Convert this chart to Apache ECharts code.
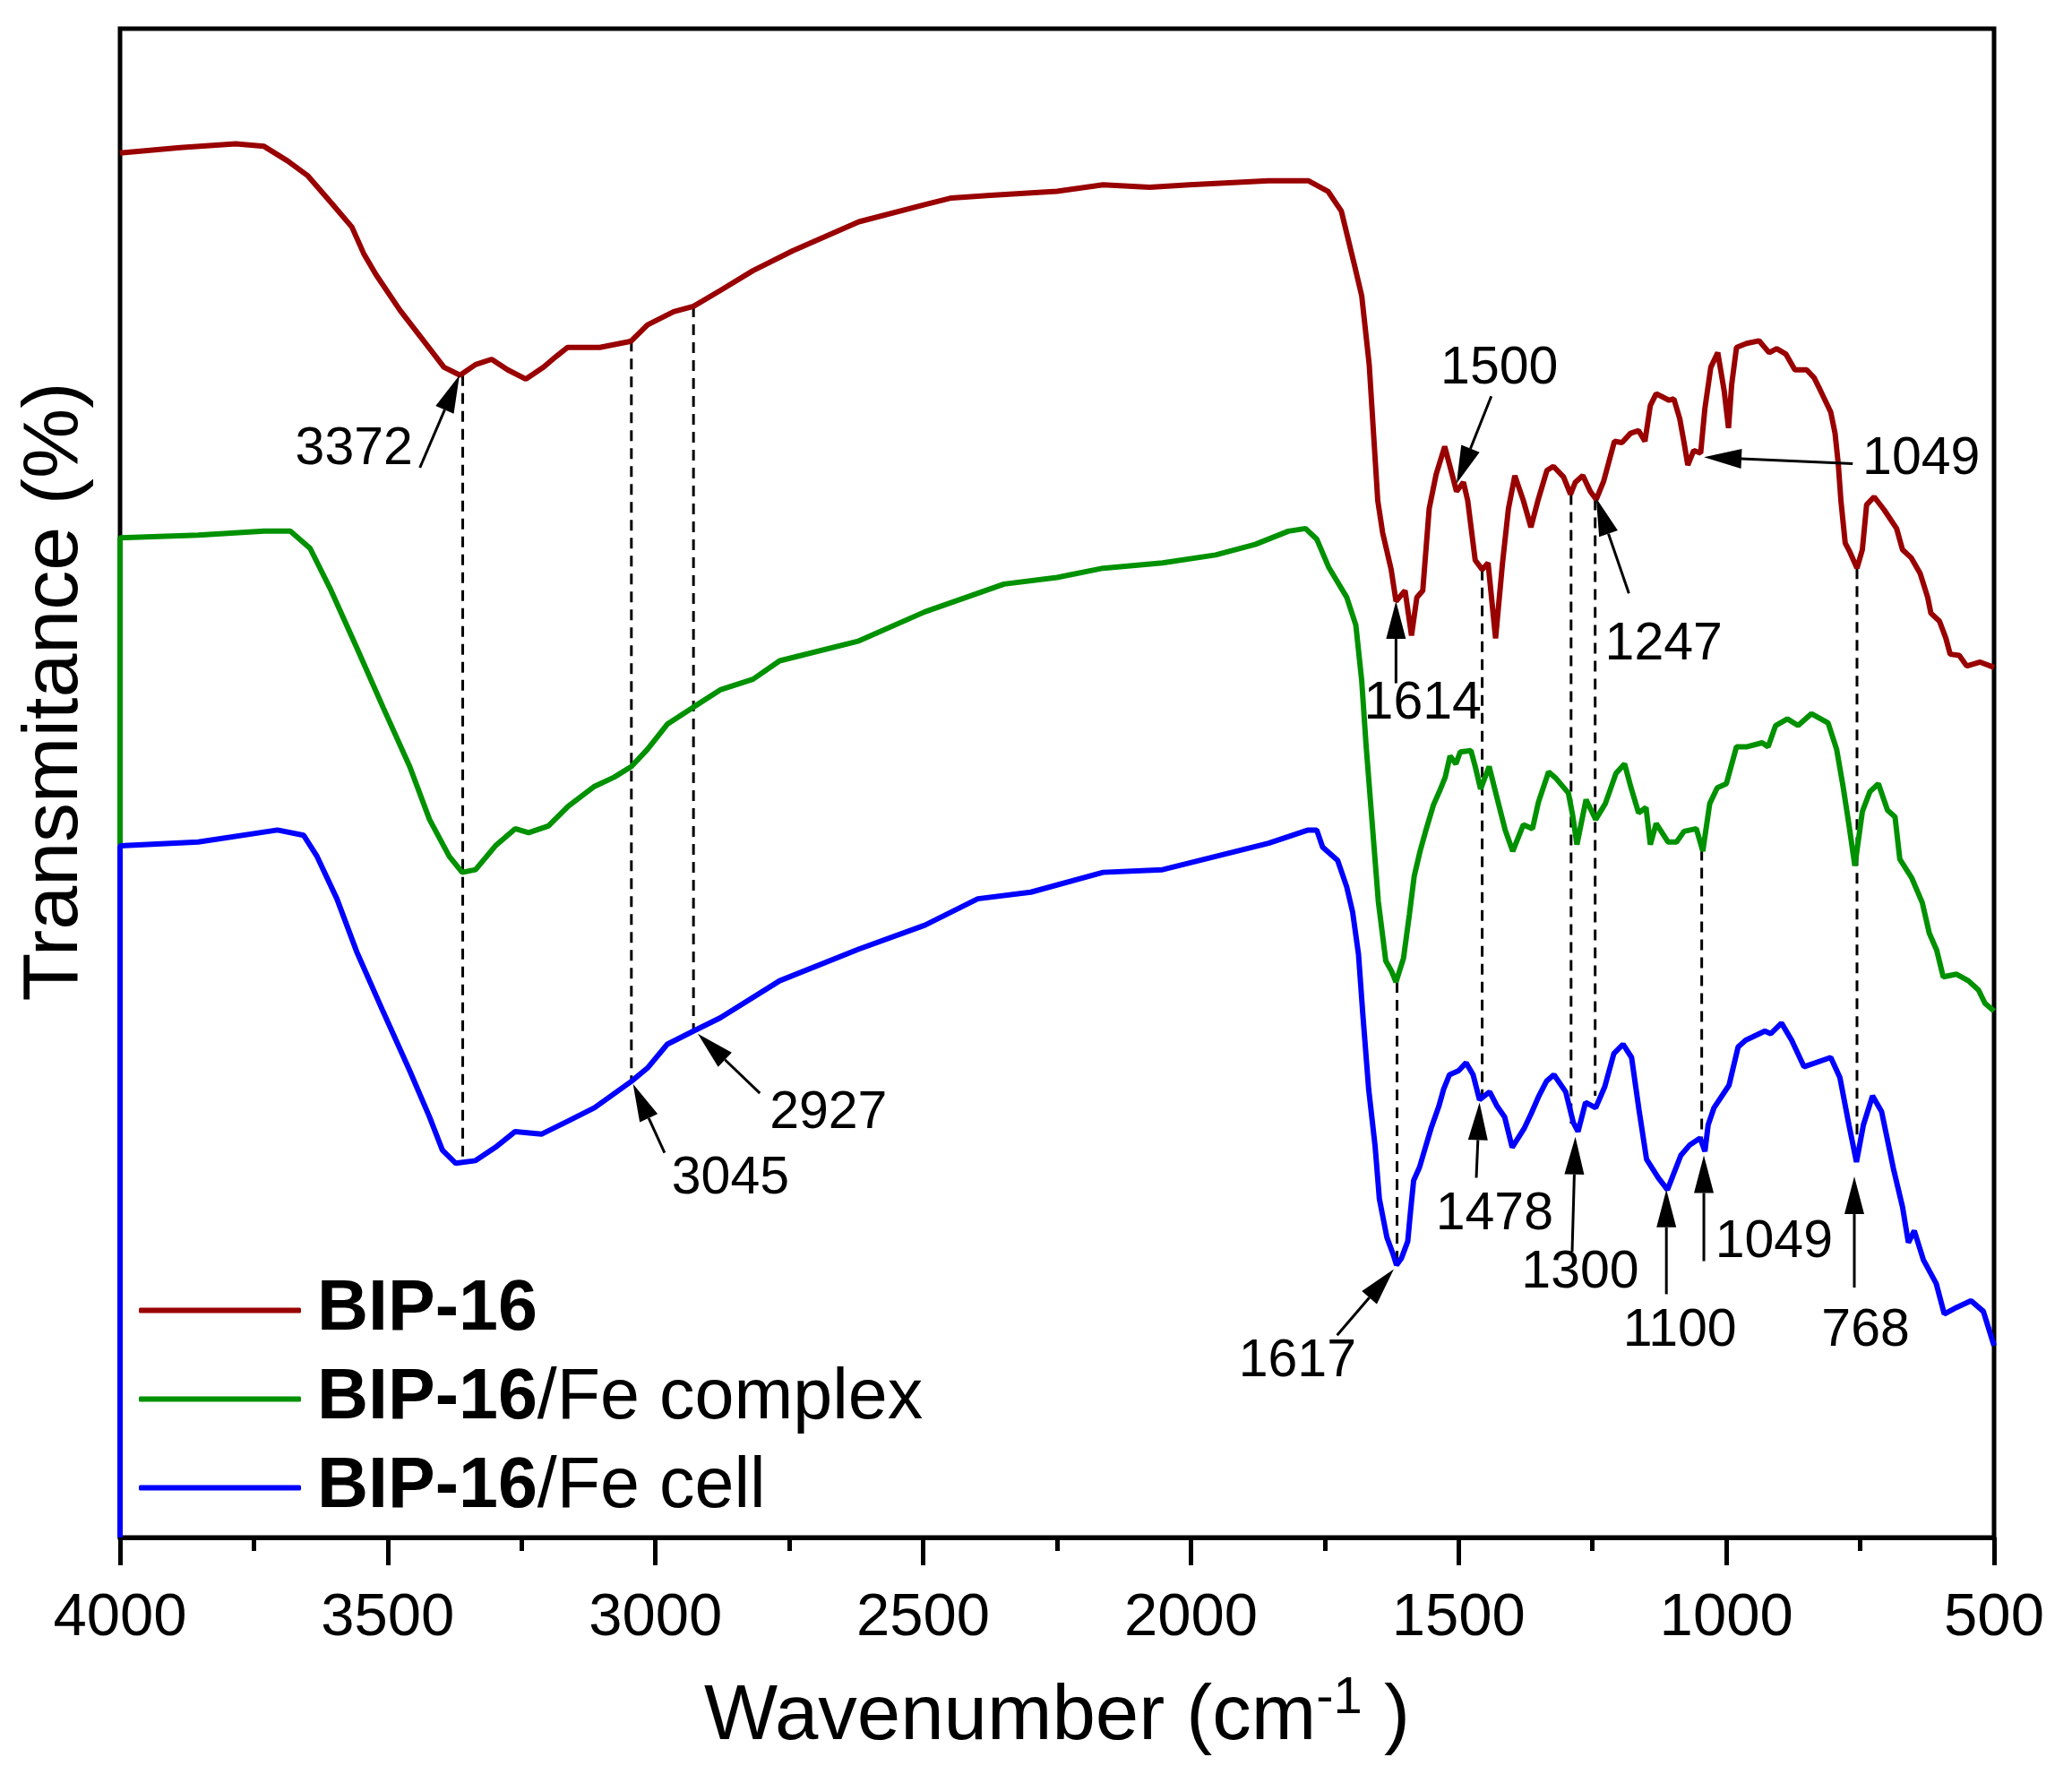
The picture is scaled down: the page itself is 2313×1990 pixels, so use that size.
<!DOCTYPE html>
<html>
<head>
<meta charset="utf-8">
<script src="https://cdn.jsdelivr.net/npm/echarts@6/dist/echarts.min.js"></script>
<style>
html,body{margin:0;padding:0;background:#fff;}
#chart{width:2313px;height:1990px;}
</style>
</head>
<body>
<div id="chart"></div>
<script>
// ---------- Data (wavenumber cm-1, transmittance in arbitrary offset units) ----------
const seriesNames = ['BIP-16', 'BIP-16/Fe complex', 'BIP-16/Fe cell'];
const xTickLabels = ['4000', '3500', '3000', '2500', '2000', '1500', '1000', '500'];

const bip16 = [
  [4000,1047],[3888,1051],[3784,1054],[3731,1052],[3687,1041],[3650,1030],[3605,1009],[3567,991],
  [3545,971],[3522,955],[3477,928],[3433,905],[3395,885],[3365,879],[3336,887],[3306,891],
  [3276,883],[3242,876],[3209,885],[3186,893],[3164,900],[3104,900],[3053,904],[3045,905],
  [3015,917],[2966,927],[2929,931],[2879,943],[2818,958],[2744,973],[2620,995],[2497,1008],
  [2447,1013],[2374,1015],[2250,1018],[2164,1023],[2077,1021],[2003,1023],[1855,1026],[1781,1026],
  [1744,1018],[1719,1003],[1695,963],[1681,939],[1667,887],[1651,784],[1642,760],[1626,732],
  [1617,708],[1600,716],[1588,682],[1578,711],[1567,716],[1555,778],[1542,804],[1526,825],
  [1511,802],[1504,791],[1491,798],[1483,784],[1469,739],[1456,732],[1445,737],[1431,680],
  [1418,737],[1407,778],[1395,803],[1379,784],[1365,764],[1352,784],[1335,807],[1323,810],
  [1304,802],[1291,789],[1282,798],[1268,803],[1254,791],[1243,785],[1229,799],[1209,829],
  [1195,828],[1179,835],[1164,837],[1152,829],[1142,856],[1131,865],[1107,860],[1098,861],
  [1087,846],[1079,828],[1072,811],[1061,822],[1048,820],[1040,854],[1029,885],[1016,896],
  [1004,867],[996,839],[990,872],[981,900],[962,903],[939,905],[920,896],[906,899],
  [889,895],[872,883],[850,883],[836,877],[825,868],[805,851],[797,835],[791,812],
  [786,784],[778,752],[769,745],[756,733],[746,747],[738,781],[724,787],[705,777],
  [682,763],[671,747],[655,741],[638,729],[624,711],[618,699],[602,693],[590,680],
  [582,668],[565,667],[551,659],[526,662],[500,658]
];

const bip16FeComplex = [
  [4000,524],[4000,756],[3854,758],[3731,761],[3682,761],[3645,748],[3608,718],[3558,673],
  [3509,628],[3459,583],[3422,543],[3385,515],[3361,503],[3336,505],[3299,523],[3262,536],
  [3237,533],[3200,538],[3163,553],[3114,568],[3077,575],[3045,583],[3015,596],[2978,615],
  [2929,628],[2879,641],[2818,649],[2768,663],[2620,678],[2497,700],[2349,721],[2250,726],
  [2164,733],[2053,737],[1954,743],[1880,751],[1818,761],[1786,763],[1765,755],[1743,734],
  [1709,711],[1692,690],[1681,648],[1673,600],[1662,543],[1650,481],[1636,436],[1625,428],
  [1617,420],[1603,438],[1592,471],[1583,500],[1572,519],[1561,535],[1547,554],[1536,564],
  [1525,575],[1516,591],[1505,585],[1497,594],[1477,595],[1469,583],[1459,566],[1443,583],
  [1430,562],[1413,535],[1399,519],[1379,539],[1362,536],[1351,556],[1332,579],[1318,574],
  [1295,563],[1287,546],[1279,524],[1262,558],[1244,543],[1226,555],[1206,578],[1190,585],
  [1178,567],[1164,548],[1150,552],[1142,524],[1131,540],[1109,526],[1093,526],[1079,534],
  [1056,536],[1044,519],[1031,555],[1017,567],[1000,570],[981,598],[961,598],[933,601],
  [922,598],[908,614],[886,619],[866,614],[841,623],[810,616],[794,596],[782,568],
  [771,539],[760,508],[746,549],[732,564],[716,570],[699,550],[685,545],[676,513],
  [654,499],[634,480],[621,457],[607,444],[595,424],[570,426],[548,421],[529,414],
  [517,404],[500,398]
];

const bip16FeCell = [
  [4000,0],[4000,523],[3854,526],[3706,535],[3657,531],[3632,515],[3595,483],[3558,443],
  [3509,398],[3459,353],[3422,318],[3398,293],[3373,283],[3336,285],[3299,295],[3262,307],
  [3213,305],[3163,315],[3114,325],[3045,345],[3015,355],[2978,373],[2929,383],[2879,393],
  [2768,421],[2620,445],[2497,463],[2398,483],[2299,488],[2164,503],[2053,505],[1954,515],
  [1855,525],[1781,535],[1765,535],[1754,522],[1726,512],[1709,492],[1698,473],[1687,441],
  [1679,396],[1668,339],[1656,296],[1648,256],[1634,227],[1623,215],[1616,206],[1607,211],
  [1595,224],[1590,246],[1584,270],[1573,280],[1565,291],[1551,310],[1537,326],[1528,339],
  [1517,350],[1500,353],[1486,359],[1473,350],[1461,331],[1442,337],[1428,326],[1414,318],
  [1400,295],[1378,309],[1364,321],[1350,334],[1336,345],[1322,350],[1300,337],[1286,314],
  [1277,307],[1263,329],[1244,325],[1227,341],[1210,366],[1193,373],[1177,363],[1163,323],
  [1149,286],[1127,272],[1110,263],[1085,289],[1068,297],[1049,302],[1040,292],[1034,312],
  [1023,325],[995,342],[978,371],[964,376],[928,383],[917,381],[897,389],[878,376],
  [855,356],[805,363],[788,348],[771,312],[757,284],[744,312],[727,334],[710,322],
  [688,279],[671,250],[660,223],[649,232],[632,210],[608,192],[593,169],[570,174],
  [543,179],[520,171],[500,145]
];

// dashed guide lines: [wavenumber, upper value, lower value]
const guideLines = [
  [3360,879,283],[3045,905,345],[2929,931,383],[1615,420,208],[1456,732,331],
  [1290,789,313],[1245,785,334],[1046,520,296],[756,733,300]
];

// arrows: [tail wavenumber, tail value, tip wavenumber, tip value]
const arrows = [
  [3440,809,3366,879],[2983,291,3042,343],[2805,336,2921,381],[1617,646,1617,708],
  [1439,863,1504,797],[1182,714,1243,786],[764,812,1042,817],[1727,153,1621,203],
  [1467,272,1461,329],[1288,216,1282,303],[1112,184,1112,263],[1042,209,1042,289],
  [761,189,761,273]
];

// peak labels: text and centre position
const peakLabelText = ['3372','1500','1614','1247','1049','3045','2927','1617','1478','1300','1100','1049','768'];
const peakLabelPos = [
  [3563,823],[1424,884],[1567,630],[1117,675],[636,815],[2860,271],[2677,321],
  [1801,133],[1433,244],[1273,200],[1087,156],[911,223],[740,156]
];

// ---------- Chart ----------
const FONT = 'Liberation Sans, Arial, sans-serif';
const colors = ['#990000', '#009100', '#0000ff'];
const chart = echarts.init(document.getElementById('chart'), null, {renderer: 'canvas'});

function lineSeries(name, data, color) {
  return {
    name: name, type: 'line', data: data, showSymbol: false, symbol: 'none',
    lineStyle: {color: color, width: 6}, itemStyle: {color: color},
    z: 2, silent: true
  };
}

const option = {
  animation: false,
  backgroundColor: '#ffffff',
  grid: {left: 134, right: 87, top: 32, bottom: 274, show: true,
         borderColor: '#000', borderWidth: 5, backgroundColor: 'transparent'},
  xAxis: {
    type: 'value', min: 500, max: 4000, interval: 500, inverse: true,
    axisLine: {show: true, lineStyle: {color: '#000', width: 5}},
    axisTick: {show: true, length: 31, lineStyle: {color: '#000', width: 5}},
    minorTick: {show: true, splitNumber: 2, length: 15, lineStyle: {color: '#000', width: 5}},
    splitLine: {show: false},
    axisLabel: {color: '#000', fontSize: 67, fontFamily: FONT, margin: 57,
                formatter: function (v) { return xTickLabels[Math.round((4000 - v) / 500)]; }},
    name: '{t|Wavenumber (cm}{s|-1}{t| )}',
    nameLocation: 'middle', nameGap: 151,
    nameTextStyle: {
      rich: {
        t: {fontSize: 87, fontFamily: FONT, color: '#000', lineHeight: 100},
        s: {fontSize: 58, fontFamily: FONT, color: '#000', lineHeight: 60, verticalAlign: 'top'}
      }
    }
  },
  yAxis: {
    type: 'value', min: 0, max: 1141,
    axisLine: {show: false}, axisTick: {show: false}, axisLabel: {show: false},
    splitLine: {show: false}
  },
  legend: {
    data: seriesNames, orient: 'vertical', left: 150, top: 1418,
    icon: 'roundRect', itemWidth: 181, itemHeight: 6, itemGap: 20,
    formatter: function (name) {
      const i = name.indexOf('/');
      return i < 0 ? '{b|' + name + '}' : '{b|' + name.slice(0, i) + '}{n|' + name.slice(i) + '}';
    },
    textStyle: {
      rich: {
        b: {fontSize: 79, fontWeight: 'bold', fontFamily: FONT, color: '#000', lineHeight: 80, padding: [0, 0, 0, 13]},
        n: {fontSize: 79, fontFamily: FONT, color: '#000', lineHeight: 80}
      }
    }
  },
  graphic: [{
    type: 'text', x: 62, y: 772, rotation: Math.PI / 2,
    style: {text: 'Transmitance (%)', fontSize: 88, fontFamily: FONT, fill: '#000',
            align: 'center', verticalAlign: 'middle'}
  }],
  series: [
    lineSeries(seriesNames[0], bip16, colors[0]),
    lineSeries(seriesNames[1], bip16FeComplex, colors[1]),
    lineSeries(seriesNames[2], bip16FeCell, colors[2]),
    {
      name: 'guides', type: 'custom', data: guideLines, z: 1, silent: true,
      encode: {x: [0], y: [1, 2]},
      renderItem: function (params, api) {
        const a = api.coord([api.value(0), api.value(1)]);
        const b = api.coord([api.value(0), api.value(2)]);
        return {type: 'line', shape: {x1: a[0], y1: a[1], x2: b[0], y2: b[1]},
                style: {stroke: '#000', lineWidth: 3, lineDash: [12, 8]}};
      }
    },
    {
      name: 'arrows', type: 'custom', data: arrows, z: 4, silent: true,
      encode: {x: [0, 2], y: [1, 3]},
      renderItem: function (params, api) {
        const p1 = api.coord([api.value(0), api.value(1)]);
        const p2 = api.coord([api.value(2), api.value(3)]);
        const dx = p2[0] - p1[0], dy = p2[1] - p1[1];
        const len = Math.sqrt(dx * dx + dy * dy);
        const ux = dx / len, uy = dy / len;
        const L = 42, W = 22;
        const bx = p2[0] - ux * L, by = p2[1] - uy * L;
        const nx = -uy * W / 2, ny = ux * W / 2;
        return {
          type: 'group',
          children: [
            {type: 'line', shape: {x1: p1[0], y1: p1[1], x2: bx, y2: by},
             style: {stroke: '#000', lineWidth: 3}},
            {type: 'polygon', shape: {points: [[p2[0], p2[1]], [bx + nx, by + ny], [bx - nx, by - ny]]},
             style: {fill: '#000'}}
          ]
        };
      }
    },
    {
      name: 'peakLabels', type: 'custom', data: peakLabelPos, z: 5, silent: true,
      encode: {x: [0], y: [1]},
      renderItem: function (params, api) {
        const p = api.coord([api.value(0), api.value(1)]);
        return {type: 'text', x: p[0], y: p[1],
                style: {text: peakLabelText[params.dataIndex], fill: '#000', fontSize: 59,
                        fontFamily: FONT, align: 'center', verticalAlign: 'middle'}};
      }
    }
  ]
};
chart.setOption(option);
</script>
</body>
</html>
